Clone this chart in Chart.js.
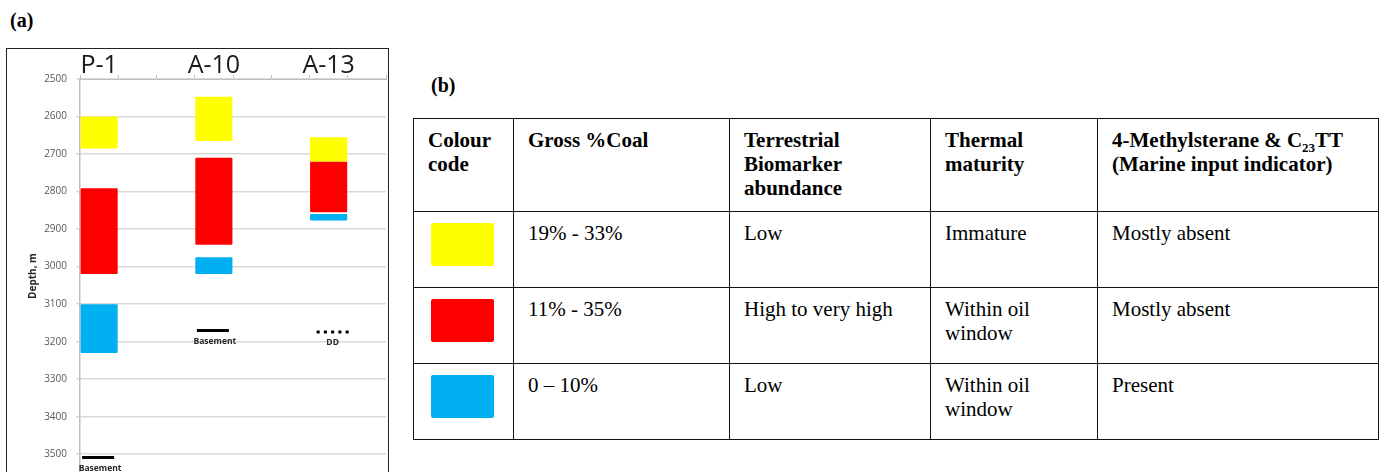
<!DOCTYPE html>
<html>
<head>
<meta charset="utf-8">
<script src="https://cdn.jsdelivr.net/npm/chart.js@4"></script>
<style>
  html, body { margin: 0; padding: 0; background: #fff; }
  body { width: 1383px; height: 472px; overflow: hidden; position: relative; }
  .panel-label { position: absolute; font: bold 20px/20px "Liberation Serif", "Times New Roman", serif; color: #000; }
  #chartBox { position: absolute; left: 6px; top: 48px; width: 381px; height: 440px; border: 1px solid #222; }
  #chartBox canvas { display: block; }
  #legendTable { position: absolute; left: 413px; top: 118px; border-collapse: collapse; table-layout: fixed;
    font: 21px/24px "Liberation Serif", "Times New Roman", serif; color: #000; }
  #legendTable td, #legendTable th { border: 1px solid #111; vertical-align: top; text-align: left;
    padding: 9px 8px 0 14px; box-sizing: border-box; }
  #legendTable th { font-weight: bold; height: 93px; }
  #legendTable td { height: 76px; }
  #legendTable td.swatch { padding: 11px 0 0 17px; }
  .swatch div { width: 63px; height: 43px; border-radius: 2px; }
  sub { font-size: 13px; line-height: 0; vertical-align: -5px; }
</style>
</head>
<body>
<div class="panel-label" style="left:10px; top:10px;">(a)</div>
<div class="panel-label" style="left:431px; top:75px;">(b)</div>

<div id="chartBox"><canvas id="depthChart" width="381" height="440"></canvas></div>

<table id="legendTable">
  <colgroup>
    <col style="width:100px"><col style="width:216px"><col style="width:201px"><col style="width:167px"><col style="width:281px">
  </colgroup>
  <thead>
    <tr>
      <th>Colour<br>code</th>
      <th>Gross %Coal</th>
      <th>Terrestrial<br>Biomarker<br>abundance</th>
      <th>Thermal<br>maturity</th>
      <th>4-Methylsterane &amp; C<sub>23</sub>TT<br>(Marine input indicator)</th>
    </tr>
  </thead>
  <tbody id="legendBody"></tbody>
</table>

<script>
// wells across the top axis (blank slots keep the spacing of the original sheet)
const wellLabels = ["P-1", "", "", "A-10", "", "", "A-13", ""];

// depth intervals in m, [top, base], per slot
const yellowZone = [[2600, 2685], null, null, [2547, 2665], null, null, [2655, 2720], null];
const redZone = [[2791, 3020], null, null, [2710, 2942], null, null, [2720, 2855], null];
const blueZone = [[3100, 3230], null, null, [2975, 3020], null, null, [2860, 2877], null];

const zoneColours = ["#ffff00", "#ff0000", "#00b0f0"];

// total depth markers
const markerWells = ["P-1", "A-10", "A-13"];
const markerDepths = [3509, 3170, 3174];
const markerTexts = ["Basement", "Basement", "DD"];
const markerDotted = [false, false, true];

const depthTicks = [2500, 2600, 2700, 2800, 2900, 3000, 3100, 3200, 3300, 3400, 3500];

// table (b)
const coalRanges = ["19% - 33%", "11% - 35%", "0 \u2013 10%"];
const biomarkerAbundance = ["Low", "High to very high", "Low"];
const thermalMaturity = ["Immature", "Within oil<br>window", "Within oil<br>window"];
const marineInput = ["Mostly absent", "Mostly absent", "Present"];

const legendBody = document.getElementById("legendBody");
zoneColours.forEach((colour, i) => {
  const tr = document.createElement("tr");
  tr.innerHTML =
    `<td class="swatch"><div style="background:${colour}"></div></td>` +
    `<td>${coalRanges[i]}</td><td>${biomarkerAbundance[i]}</td>` +
    `<td>${thermalMaturity[i]}</td><td>${marineInput[i]}</td>`;
  legendBody.appendChild(tr);
});

const markerPlugin = {
  id: "depthMarkers",
  afterDatasetsDraw(chart) {
    const { ctx, scales: { x, y } } = chart;
    const half = 16;
    markerWells.forEach((well, i) => {
      const cx = x.getPixelForValue(wellLabels.indexOf(well));
      const cy = y.getPixelForValue(markerDepths[i]);
      ctx.save();
      ctx.strokeStyle = "#000";
      ctx.lineWidth = 3;
      if (markerDotted[i]) {
        ctx.setLineDash([3, 4.25]);
        ctx.beginPath();
        ctx.moveTo(cx - half + 4, cy);
        ctx.lineTo(cx + half + 4, cy);
        ctx.stroke();
      } else {
        ctx.beginPath();
        ctx.moveTo(cx - half - 1, cy);
        ctx.lineTo(cx + half - 1, cy);
        ctx.stroke();
      }
      ctx.setLineDash([]);
      ctx.fillStyle = "#262626";
      ctx.font = "bold 8.5px 'Open Sans'";
      ctx.textAlign = "center";
      ctx.textBaseline = "middle";
      ctx.fillText(markerTexts[i], cx + (markerDotted[i] ? 4 : 1), cy + 11);
      ctx.restore();
    });
  },
};

const zoneDataset = (data, colour) => ({
  data,
  backgroundColor: colour,
  borderWidth: 0,
  borderRadius: 1,
  borderSkipped: false,
  grouped: false,
  barPercentage: 0.97,
  categoryPercentage: 1,
});

new Chart(document.getElementById("depthChart"), {
  type: "bar",
  data: {
    labels: wellLabels,
    datasets: [
      zoneDataset(yellowZone, zoneColours[0]),
      zoneDataset(redZone, zoneColours[1]),
      zoneDataset(blueZone, zoneColours[2]),
    ],
  },
  plugins: [markerPlugin],
  options: {
    responsive: false,
    animation: false,
    layout: { padding: { left: 0, right: 2, top: 0, bottom: 16 } },
    plugins: {
      legend: { display: false },
      tooltip: { enabled: false },
    },
    scales: {
      x: {
        position: "top",
        afterFit: (scale) => { scale.height = 30; },
        grid: {
          drawOnChartArea: false,
          drawTicks: true,
          tickLength: 4,
          color: "#bfbfbf",
          tickColor: "#bfbfbf",
        },
        border: { color: "#bfbfbf", width: 1 },
        ticks: {
          color: "#1a1a1a",
          padding: -6,
          autoSkip: false,
          maxRotation: 0,
          font: { family: "'Open Sans'", size: 25 },
        },
      },
      y: {
        reverse: true,
        min: 2500,
        max: 3550,
        afterFit: (scale) => { scale.width = 73; },
        afterBuildTicks: (scale) => {
          scale.ticks = depthTicks.map((value) => ({ value }));
        },
        grid: {
          color: "#d9d9d9",
          lineWidth: 1.5,
          tickLength: 4,
        },
        border: { color: "#bfbfbf", width: 1.5 },
        ticks: {
          color: "#595959",
          padding: 9,
          font: { family: "'Open Sans'", size: 10 },
          callback: (value) => String(value),
        },
        title: {
          display: true,
          text: "Depth, m",
          color: "#262626",
          padding: { top: 20, bottom: 0 },
          font: { family: "'Open Sans'", size: 10, weight: "bold" },
        },
      },
    },
  },
});
</script>
</body>
</html>
